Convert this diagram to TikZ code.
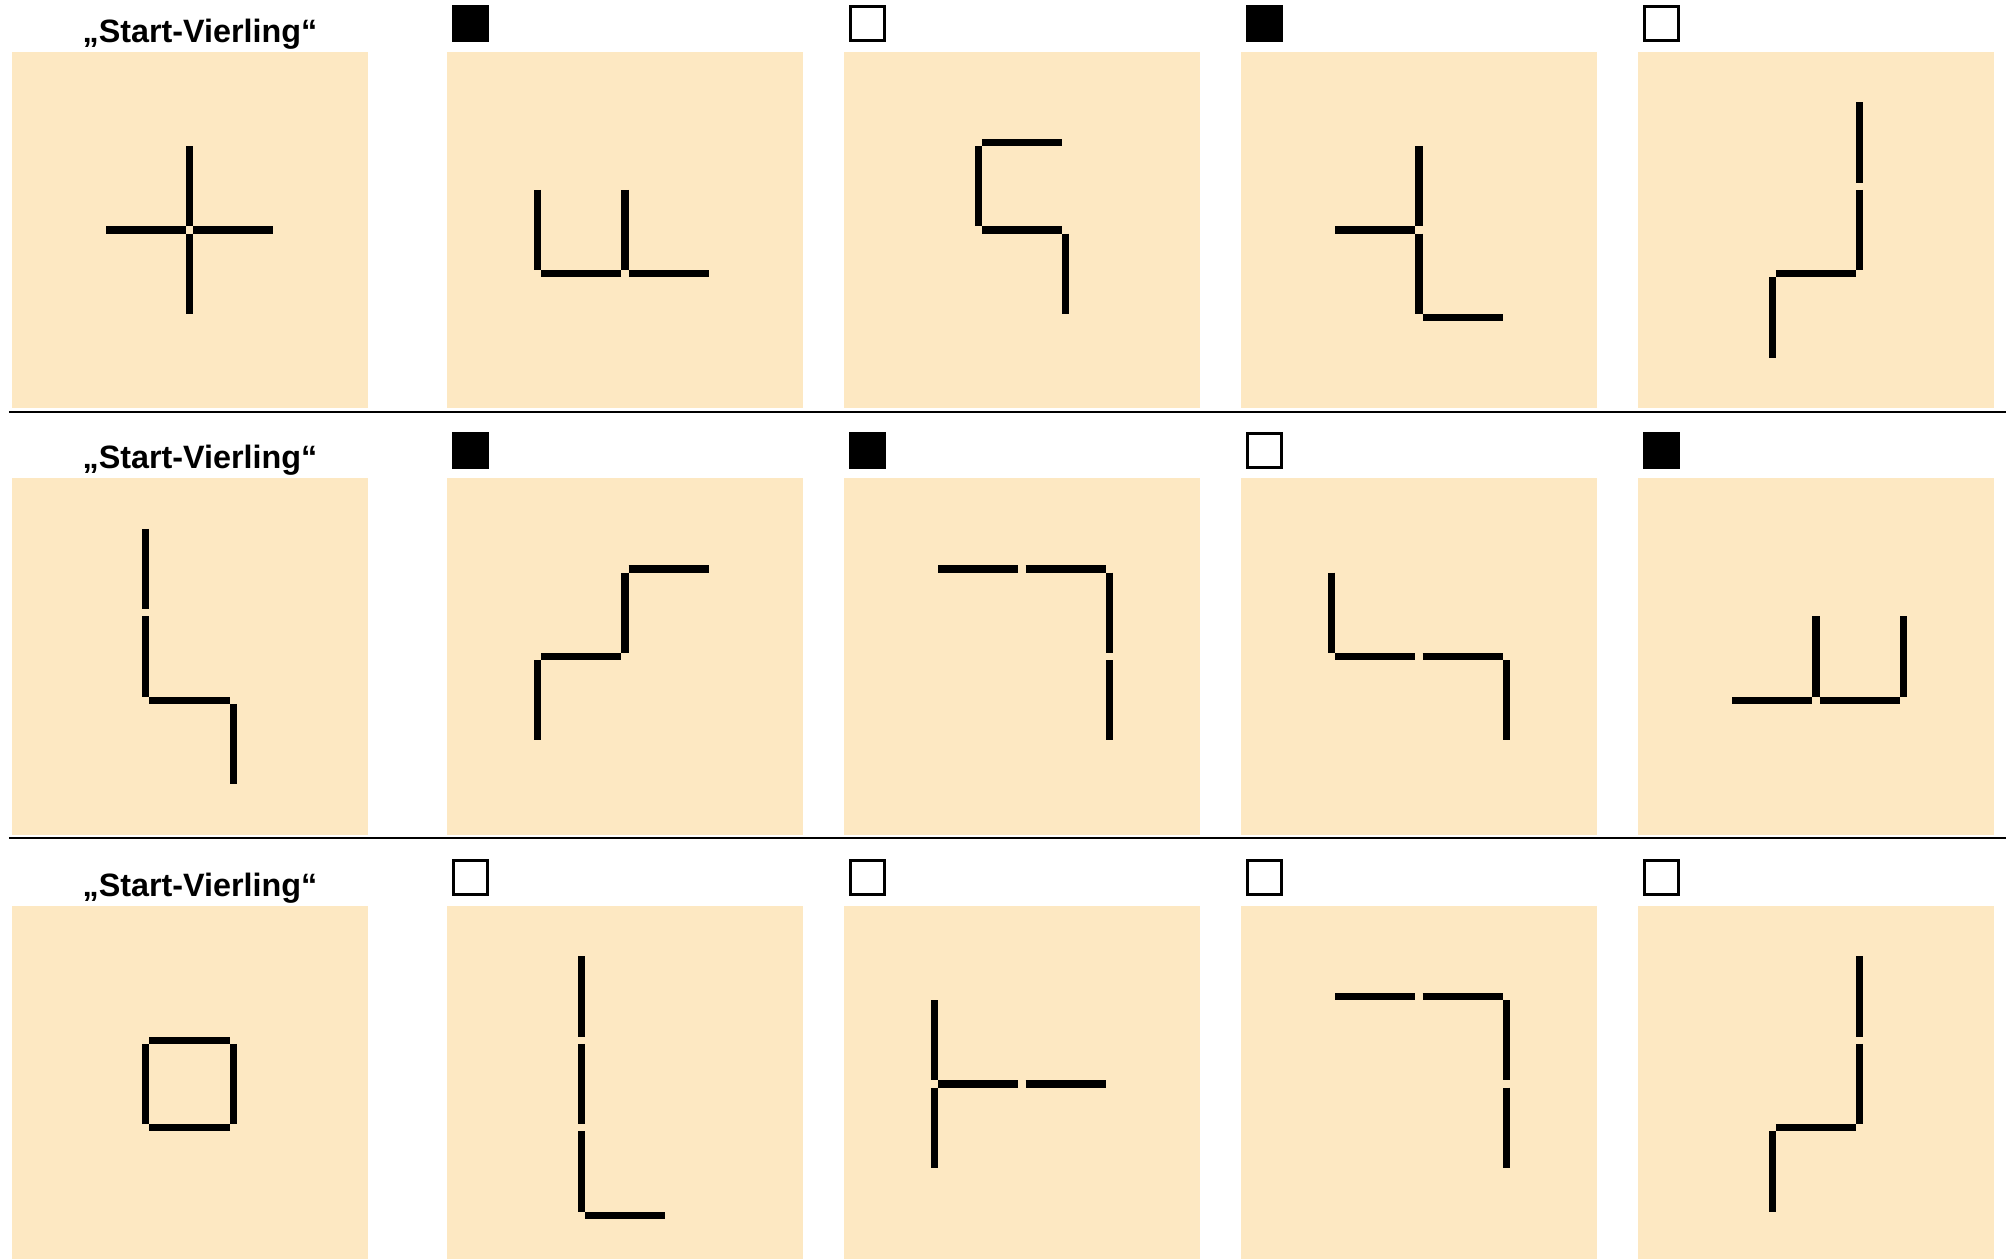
\documentclass[tikz,border=0pt]{standalone}
\usepackage{fontspec}
\setmainfont{Liberation Sans}
\usetikzlibrary{positioning}
\definecolor{karton}{RGB}{253,232,194}

\begin{document}
\begin{tikzpicture}

\tikzset{panel/.style = {rectangle,fill=karton,minimum size=3.56cm,inner sep=0pt}}
\tikzset{stick/.style = {line width=2.1pt,shorten <=1.05pt,shorten >=1.05pt}}
\tikzset{kasten/.style = {rectangle,draw,line width=0.8pt,minimum size=0.34cm,inner sep=0pt}}
\tikzset{voll/.style = {kasten,fill=black}}
\tikzset{leer/.style = {kasten,fill=white}}
\tikzset{titel/.style = {font=\bfseries\fontsize{9.2}{11}\selectfont,inner sep=0pt}}
\tikzset{trenner/.style = {line width=0.7pt}}

\useasboundingbox (0,0) rectangle (20.06,12.58);

% panels
\foreach \r/\y in {1/10.28,2/6.015,3/1.74}
  \foreach \s/\x in {1/1.895,2/6.25,3/10.22,4/14.19,5/18.16}
    \node[panel] (p\r\s) at (\x,\y) {};

% titles
\foreach \r in {1,2,3}
  \node[titel,above=0.09cm of p\r1,anchor=base,xshift=0.105cm] (t\r) {„Start-Vierling“};

% check boxes
\foreach \r/\s/\art in {1/2/voll,1/3/leer,1/4/voll,1/5/leer,
                        2/2/voll,2/3/voll,2/4/leer,2/5/voll,
                        3/2/leer,3/3/leer,3/4/leer,3/5/leer}
  \node[\art,above right=0.09cm and 0.06cm of p\r\s.north west] (k\r\s) {};

% separators
\draw[trenner] (0.09,8.46) -- (20.06,8.46);
\draw[trenner] (0.09,4.20) -- (20.06,4.20);

% sticks (grid units, origin = panel centre)
\foreach \p/\l in {
    p11/{0/0/1/0,0/0/-1/0,0/0/0/1,0/0/0/-1},
    p12/{-1/0.5/-1/-0.5,0/0.5/0/-0.5,-1/-0.5/0/-0.5,0/-0.5/1/-0.5},
    p13/{-0.5/1/0.5/1,-0.5/1/-0.5/0,-0.5/0/0.5/0,0.5/0/0.5/-1},
    p14/{0/1/0/0,0/0/0/-1,-1/0/0/0,0/-1/1/-1},
    p15/{0.5/1.5/0.5/0.5,0.5/0.5/0.5/-0.5,-0.5/-0.5/0.5/-0.5,-0.5/-0.5/-0.5/-1.5},
    p21/{-0.5/1.5/-0.5/0.5,-0.5/0.5/-0.5/-0.5,-0.5/-0.5/0.5/-0.5,0.5/-0.5/0.5/-1.5},
    p22/{0/1/1/1,0/1/0/0,-1/0/0/0,-1/0/-1/-1},
    p23/{-1/1/0/1,0/1/1/1,1/1/1/0,1/0/1/-1},
    p24/{-1/1/-1/0,-1/0/0/0,0/0/1/0,1/0/1/-1},
    p25/{-1/-0.5/0/-0.5,0/-0.5/1/-0.5,0/0.5/0/-0.5,1/0.5/1/-0.5},
    p31/{-0.5/0.5/0.5/0.5,0.5/0.5/0.5/-0.5,0.5/-0.5/-0.5/-0.5,-0.5/-0.5/-0.5/0.5},
    p32/{-0.5/1.5/-0.5/0.5,-0.5/0.5/-0.5/-0.5,-0.5/-0.5/-0.5/-1.5,-0.5/-1.5/0.5/-1.5},
    p33/{-1/1/-1/0,-1/0/-1/-1,-1/0/0/0,0/0/1/0},
    p34/{-1/1/0/1,0/1/1/1,1/1/1/0,1/0/1/-1},
    p35/{0.5/1.5/0.5/0.5,0.5/0.5/0.5/-0.5,-0.5/-0.5/0.5/-0.5,-0.5/-0.5/-0.5/-1.5}}
{
  \begin{scope}[shift={(\p)},scale=0.875]
    \foreach \xa/\ya/\xb/\yb in \l
      \draw[stick] (\xa,\ya) -- (\xb,\yb);
  \end{scope}
}

\end{tikzpicture}
\end{document}
